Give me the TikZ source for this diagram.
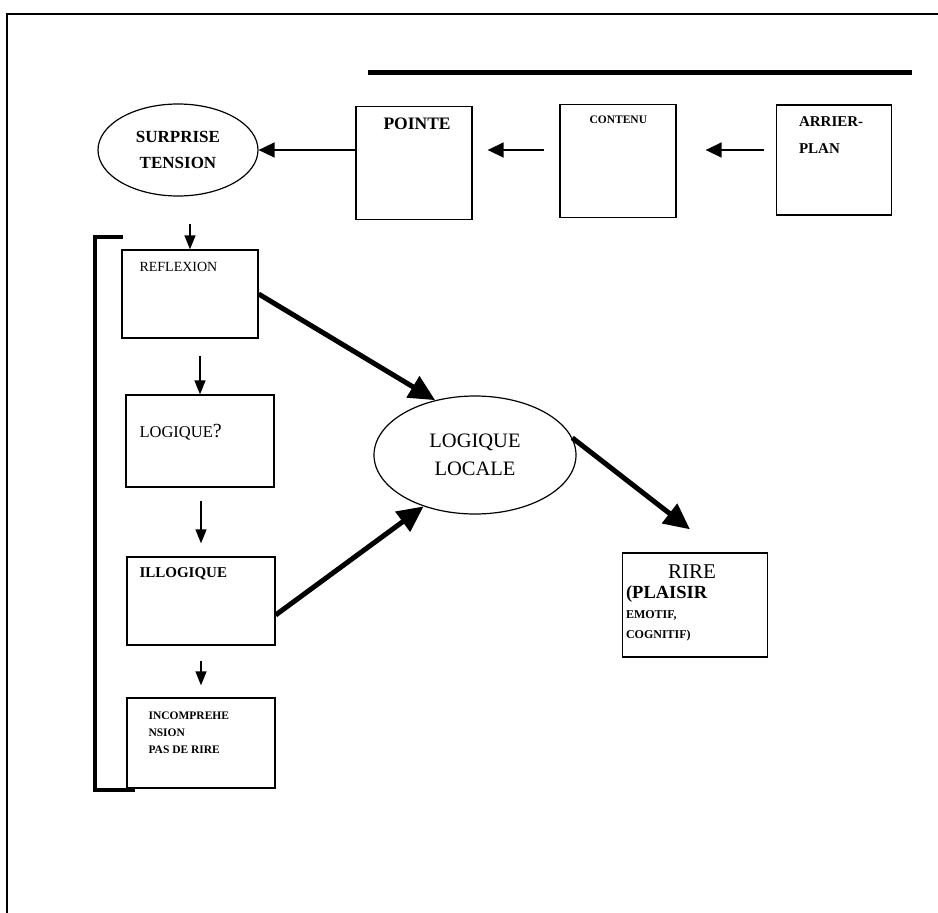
\documentclass[tikz,border=0pt]{standalone}
\usepackage{fontspec}
\setmainfont{Liberation Serif}
\usetikzlibrary{arrows.meta,shapes.geometric}
\tikzset{
  box/.style={draw, line width=1.3pt, inner sep=0pt},
  bulle/.style={draw, ellipse, line width=1.2pt, inner sep=0pt, align=center},
  boxtext/.style={anchor=north west, inner sep=0pt, align=left},
  fleche/.style={line width=1.3pt, -{Triangle[length=14pt,width=11pt]}},
  fleche haut/.style={line width=1.5pt, -{Triangle[length=16pt,width=15pt]}},
  grosse/.style={line width=5pt, -{Triangle[length=26pt,width=24pt]}}
}
\begin{document}
\begin{tikzpicture}[x=1pt,y=-1pt]
      \useasboundingbox (0,0) rectangle (938,913);
      % cadre et barre
      \draw[line width=1.2pt] (938,14) -- (7,14) -- (7,913);
      \draw[line width=5pt] (368,72) -- (912,72);
      % ligne du haut
      \node[bulle, minimum width=160pt, minimum height=92pt,
        font=\bfseries\fontsize{17}{26}\selectfont] (surprise) at (178,150)
        {SURPRISE\\TENSION};
      \node[box, minimum width=116pt, minimum height=113pt,
        label={[boxtext, xshift=28pt, yshift=-12pt, font=\bfseries\fontsize{17.5}{18}\selectfont]north west:POINTE}]
        (pointe) at (414,163) {};
      \node[box, minimum width=116pt, minimum height=113pt,
        label={[boxtext, xshift=30pt, yshift=-12pt, font=\bfseries\fontsize{11.5}{14}\selectfont]north west:CONTENU}]
        (contenu) at (618,161) {};
      \node[box, minimum width=115pt, minimum height=110pt,
        label={[boxtext, xshift=23pt, yshift=-12pt, font=\bfseries\fontsize{15}{27}\selectfont]north west:{ARRIER-\\PLAN}}]
        (arrier) at (834,160) {};
      % colonne de gauche
      \node[box, minimum width=136pt, minimum height=88pt,
        label={[boxtext, xshift=18pt, yshift=-13pt, font=\fontsize{14}{16}\selectfont]north west:REFLEXION}]
        (reflexion) at (190,294) {};
      \node[box, minimum width=148pt, minimum height=92pt,
        label={[boxtext, xshift=14pt, yshift=-30pt, font=\fontsize{16.5}{18}\selectfont]north west:{LOGIQUE{\fontsize{20}{18}\selectfont ?}}}]
        (logique) at (200,441) {};
      \node[box, minimum width=148pt, minimum height=88pt,
        label={[boxtext, xshift=13pt, yshift=-11pt, font=\bfseries\fontsize{15}{18}\selectfont]north west:ILLOGIQUE}]
        (illogique) at (201,601) {};
      \node[box, minimum width=148pt, minimum height=90pt,
        label={[boxtext, xshift=22pt, yshift=-14pt, font=\bfseries\fontsize{11.5}{17}\selectfont]north west:{INCOMPREHE\\NSION\\PAS DE RIRE}}]
        (incomp) at (201,743) {};
      % partie droite
      \node[bulle, minimum width=202pt, minimum height=118pt,
        font=\fontsize{20.5}{28}\selectfont] (locale) at (475,455)
        {LOGIQUE\\LOCALE};
      \node[box, minimum width=145pt, minimum height=104pt,
        label={[boxtext, xshift=4pt, yshift=-12pt, font=\fontsize{12}{20}\selectfont]north west:{%
          \begin{tabular}{@{}l@{}}
          \hspace*{42pt}\fontsize{21}{20}\selectfont RIRE\\
          \bfseries\fontsize{18.5}{19}\selectfont (PLAISIR\\
          \bfseries EMOTIF,\\
          \bfseries COGNITIF)
          \end{tabular}}}]
        (rire) at (695,605) {};
      % crochet
      \draw[line width=3.5pt] (123,237) -- (95,237) -- (95,790) -- (135,790);
      % fleches
      \draw[fleche haut] (pointe.west |- surprise.east) -- (surprise.east);
      \draw[fleche haut, shorten <=15pt, shorten >=15pt] (contenu.west |- surprise.east) -- (pointe.east |- surprise.east);
      \draw[fleche haut, shorten <=12pt, shorten >=29pt] (arrier.west |- surprise.east) -- (contenu.east |- surprise.east);
      \draw[fleche, shorten <=27pt] (reflexion.north |- surprise.south) -- (reflexion.north);
      \draw[fleche, shorten <=17pt] (reflexion.south -| logique.north) -- (logique.north);
      \draw[fleche, shorten <=13pt, shorten >=13pt] (logique.south -| illogique.north) -- (illogique.north);
      \draw[fleche, shorten <=15pt, shorten >=12pt] (illogique.south -| incomp.north) -- (incomp.north);
      \draw[grosse] (reflexion.east) -- (locale.126);
      \draw[grosse] ([yshift=-14pt]illogique.east) -- (locale.225);
      \draw[grosse] (locale.10) -- ([shift={(-5,-23)}]rire.north);
    \end{tikzpicture}
\end{document}
